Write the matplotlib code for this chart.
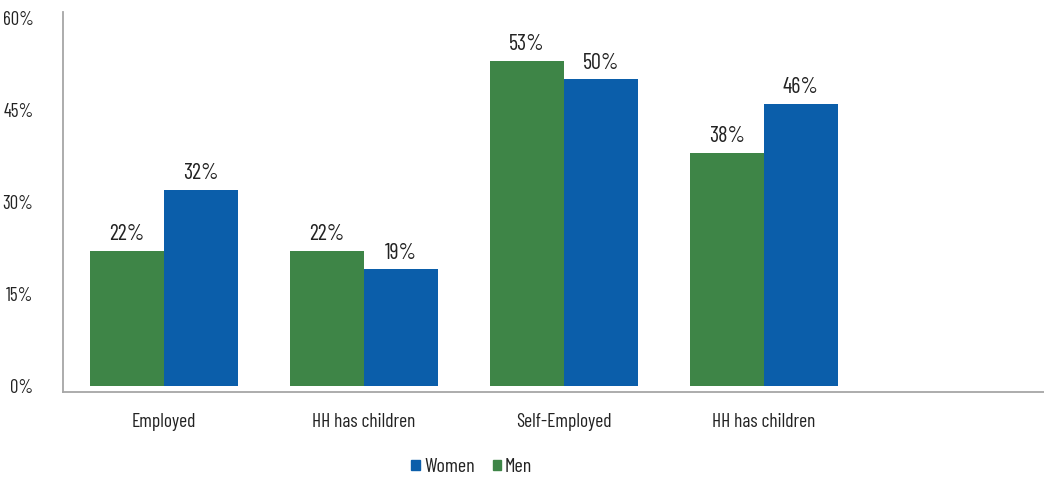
import matplotlib
matplotlib.use('Agg')
from matplotlib import pyplot as plt
from matplotlib.patches import Patch
import numpy as np

plt.rcParams['font.family'] = ['Barlow Condensed', 'DejaVu Sans']

categories = ['Employed', 'HH has children', 'Self-Employed', 'HH has children']
men = [22, 22, 53, 38]
women = [32, 19, 50, 46]
y_ticks = [0, 15, 30, 45, 60]

green = '#3E8547'
blue = '#0B5EAA'
text_color = '#222222'

figure = plt.figure(figsize=(10.44, 4.79), dpi=100)
ax = figure.add_axes([0.060, 0.182, 0.940, 0.793])

x = np.arange(len(categories))
width = 0.37
men_bars = ax.bar(x - width / 2, men, width, color=green)
women_bars = ax.bar(x + width / 2, women, width, color=blue)

# value labels sit just above each bar
for bars, values in ((men_bars, men), (women_bars, women)):
    for bar, value in zip(bars, values):
        ax.annotate(f'{value}%', (bar.get_x() + bar.get_width() / 2, value),
                    xytext=(0, 4), textcoords='offset points',
                    ha='center', va='bottom', fontsize=16, color=text_color)

ax.set_xlim(-0.505, 4.4)
ax.set_ylim(-1.0, 61.0)
ax.set_yticks(y_ticks)
ax.set_yticklabels([f'{t}%' for t in y_ticks])
ax.set_xticks(x)
ax.set_xticklabels(categories)
ax.tick_params(axis='both', length=0, labelsize=14, colors=text_color)
ax.tick_params(axis='y', labelsize=13.5, pad=21)
ax.tick_params(axis='x', pad=15)

for side in ('top', 'right'):
    ax.spines[side].set_visible(False)
for side in ('left', 'bottom'):
    ax.spines[side].set_color('#A6A6A6')
    ax.spines[side].set_linewidth(1.3)

handles = [Patch(color=blue, label='Women'), Patch(color=green, label='Men')]
figure.legend(handles=handles, loc='center', bbox_to_anchor=(0.452, 0.025),
              ncol=2, frameon=False, handlelength=0.42, handleheight=0.42,
              handletextpad=0.2, columnspacing=0.9,
              prop={'size': 14.5}, labelcolor=text_color)

plt.savefig('out.png', dpi=100)
